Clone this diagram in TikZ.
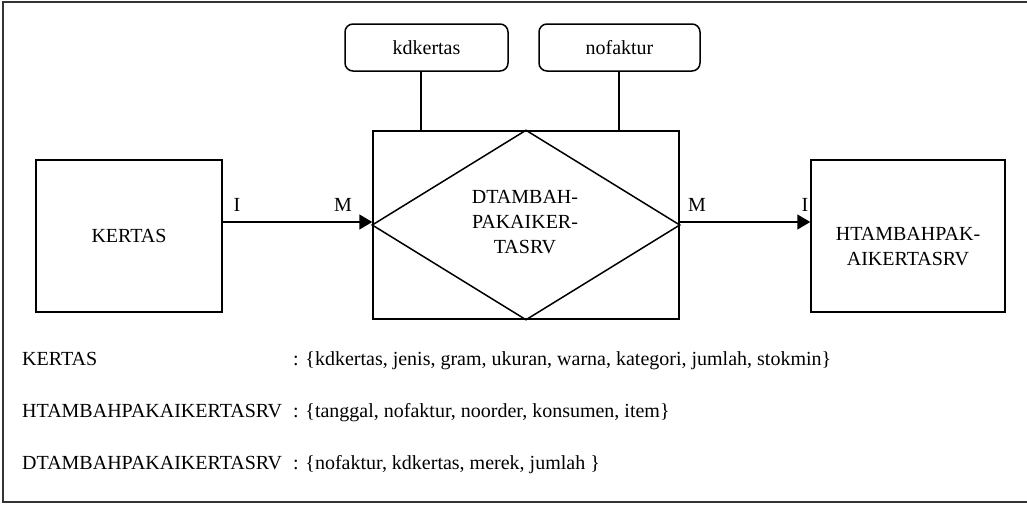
\documentclass[tikz,border=0pt]{standalone}
\usepackage{fontspec}
\setmainfont{Liberation Serif}
\usetikzlibrary{arrows.meta}
\begin{document}
\begin{tikzpicture}[x=1pt,y=-1pt,
  every node/.style={font=\fontsize{20}{25}\selectfont},
  ent/.style={draw, line width=1.5pt, inner sep=0pt},
  attr/.style={draw, line width=1.5pt, rounded corners=8pt, inner sep=0pt, minimum height=47pt},
  link/.style={line width=1.5pt},
  arr/.style={line width=1.5pt, -{Triangle[length=13pt,width=15pt]}},
  card/.style={inner sep=0pt, anchor=base},
  txt/.style={inner sep=0pt, anchor=base west}]
\useasboundingbox (0,0) rectangle (1027,504);
\clip (0,0) rectangle (1027,504);
% frame
\draw[line width=2pt, black!80] (3,2) rectangle (1040,502);

% entities and relationship
\node[ent, minimum width=186pt, minimum height=152pt] (kertas) at (129,236) {KERTAS};
\node[ent, minimum width=194pt, minimum height=152pt] (ht) at (908,236) {};
\node[inner sep=0pt, align=center] (httext) at ([yshift=-11pt]ht.center) {HTAMBAHPAK-\\AIKERTASRV};
\node[ent, minimum width=306pt, minimum height=188pt] (rel) at (526,225) {};
\draw[link] (rel.west) -- (rel.north) -- (rel.east) -- (rel.south) -- cycle;
\node[inner sep=0pt, align=center] (reltext) at (525,222) {DTAMBAH-\\PAKAIKER-\\TASRV};

% attributes
\node[attr, minimum width=163pt] (kd) at (426.5,47.5) {kdkertas};
\node[attr, minimum width=161pt] (nf) at (619.5,47.5) {nofaktur};
\draw[link] ([xshift=-5.5pt]kd.south) -- ([xshift=-5.5pt]kd.south |- rel.north);
\draw[link] ([xshift=-0.5pt]nf.south) -- ([xshift=-0.5pt]nf.south |- rel.north);

% connectors
\draw[arr] ([yshift=14pt]kertas.east) -- ([yshift=3pt]rel.west);
\draw[arr] ([yshift=3pt]rel.east) -- ([yshift=14pt]ht.west);
\node[card] (c1) at (237,211) {I};
\node[card] (c2) at (343,211) {M};
\node[card] (c3) at (697,211) {M};
\node[card] (c4) at (805,211) {I};

% table descriptions
\node[txt] (t1) at (22,365) {KERTAS};
\node[txt] (a1) at (293,365) {: \{kdkertas, jenis, gram, ukuran, warna, kategori, jumlah, stokmin\}};
\node[txt] (t2) at (22,417) {HTAMBAHPAKAIKERTASRV};
\node[txt] (a2) at (293,417) {: \{tanggal, nofaktur, noorder, konsumen, item\}};
\node[txt] (t3) at (22,469) {DTAMBAHPAKAIKERTASRV};
\node[txt] (a3) at (293,469) {: \{nofaktur, kdkertas, merek, jumlah \}};
\end{tikzpicture}
\end{document}
